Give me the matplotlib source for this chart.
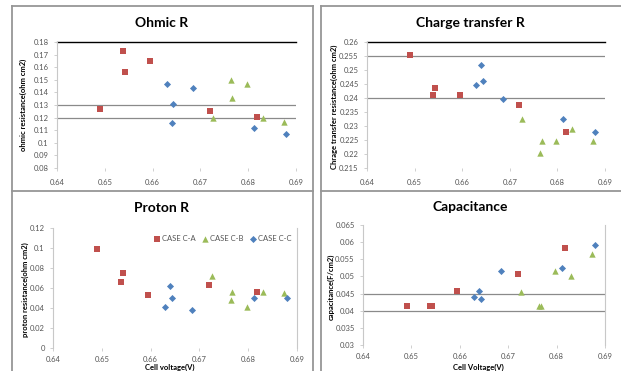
import numpy as np
import matplotlib.pyplot as plt
from matplotlib.lines import Line2D
from matplotlib.ticker import FuncFormatter

# cell voltage (V) for each case
volt_a = [0.6490, 0.6539, 0.6543, 0.6595, 0.6720, 0.6818]
volt_b = [0.6726, 0.6764, 0.6767, 0.6797, 0.6830, 0.6874]
volt_c = [0.6630, 0.6640, 0.6643, 0.6685, 0.6812, 0.6880]

# ohmic resistance (ohm cm2)
ohmic_a = [0.1268, 0.1726, 0.1562, 0.1647, 0.1252, 0.1207]
ohmic_b = [0.1200, 0.1501, 0.1356, 0.1467, 0.1200, 0.1162]
ohmic_c = [0.1464, 0.1160, 0.1311, 0.1432, 0.1115, 0.1073]

# charge transfer resistance (ohm cm2)
ct_a = [0.2555, 0.2412, 0.2436, 0.2412, 0.2375, 0.2279]
ct_b = [0.2326, 0.2205, 0.2245, 0.2245, 0.2290, 0.2245]
ct_c = [0.2445, 0.2519, 0.2460, 0.2398, 0.2326, 0.2279]

# proton resistance (ohm cm2)
proton_a = [0.0990, 0.0657, 0.0753, 0.0530, 0.0633, 0.0557]
proton_b = [0.0717, 0.0477, 0.0563, 0.0413, 0.0560, 0.0547]
proton_c = [0.0413, 0.0617, 0.0497, 0.0377, 0.0497, 0.0497]

# capacitance (F/cm2)
cap_a = [0.0415, 0.0415, 0.0415, 0.0458, 0.0508, 0.0583]
cap_b = [0.0456, 0.0415, 0.0415, 0.0515, 0.0500, 0.0566]
cap_c = [0.0441, 0.0458, 0.0433, 0.0516, 0.0524, 0.0592]

case_names = ['CASE C-A', 'CASE C-B', 'CASE C-C']
colors = ['#C0504D', '#9BBB59', '#4F81BD']
markers = ['s', '^', 'D']
sizes = [17, 21, 13]

plt.rcParams['font.family'] = ['Lato', 'DejaVu Sans']

W, H = 621, 371
fig = plt.figure(figsize=(W / 100, H / 100), dpi=100)
fig.patch.set_facecolor('white')


def px_axes(x0, y0, x1, y1):
    return fig.add_axes([x0 / W, 1 - y1 / H, (x1 - x0) / W, (y1 - y0) / H])


def fig_line(x0, y0, x1, y1, color='#969696', lw=1.3):
    fig.add_artist(Line2D([x0 / W, x1 / W], [1 - y0 / H, 1 - y1 / H],
                          transform=fig.transFigure, color=color, lw=lw))


# panel frames
fig_line(12, 6, 12, 371)
fig_line(313, 6, 313, 371)
fig_line(321, 6, 321, 371)
fig_line(12, 6, 313, 6)
fig_line(321, 6, 621, 6)
fig_line(12, 191, 313, 191)
fig_line(321, 191, 621, 191)

fmt = FuncFormatter(lambda v, p: '%g' % round(v, 4))


def style(ax, ylim, ystep, hlines, top_black, right_line, xpad):
    ax.set_xlim(0.64, 0.69)
    ax.set_ylim(*ylim)
    ax.set_xticks(np.round(np.arange(0.64, 0.6901, 0.01), 3))
    ax.set_yticks(np.round(np.arange(ylim[0], ylim[1] + ystep / 2, ystep), 4))
    ax.xaxis.set_major_formatter(fmt)
    ax.yaxis.set_major_formatter(fmt)
    for s in ['top', 'right', 'bottom']:
        ax.spines[s].set_visible(False)
    ax.spines['left'].set_color('#c8c8c8')
    ax.spines['left'].set_linewidth(0.8)
    ax.tick_params(axis='both', labelsize=5.5, labelcolor='#555555',
                   color='#c8c8c8', length=2, width=0.6)
    ax.tick_params(axis='x', pad=xpad)
    ax.tick_params(axis='y', pad=4)
    for h in hlines:
        ax.axhline(h, color='#8a8a8a', lw=0.9, zorder=1)
    if top_black:
        ax.axhline(ylim[1], color='black', lw=1.0, zorder=1, clip_on=False)
    if right_line:
        ax.axvline(0.69, color='#c8c8c8', lw=0.8, zorder=1, clip_on=False)


def draw(ax, ya, yb, yc):
    for xs, ys, c, m, s, name in zip([volt_a, volt_b, volt_c], [ya, yb, yc],
                                     colors, markers, sizes, case_names):
        ax.scatter(xs, ys, marker=m, s=s, color=c, linewidths=0, zorder=3,
                   label=name)


# --- Ohmic R ---
ax1 = px_axes(57, 42, 296, 168)
style(ax1, (0.08, 0.18), 0.01, [0.12, 0.13], True, False, 6)
draw(ax1, ohmic_a, ohmic_b, ohmic_c)
fig.text(162 / W, 1 - 23 / H, 'Ohmic R', ha='center', va='center',
         fontsize=10, fontweight='bold')
fig.text(23 / W, 1 - 105 / H, 'ohmic resistance(ohm cm2)', rotation=90,
         ha='center', va='center', fontsize=5.5, fontweight='bold')

# --- Charge transfer R ---
ax2 = px_axes(367, 42, 605, 168)
style(ax2, (0.215, 0.26), 0.005, [0.24, 0.255], True, False, 6)
draw(ax2, ct_a, ct_b, ct_c)
fig.text(470 / W, 1 - 23 / H, 'Charge transfer R', ha='center', va='center',
         fontsize=10, fontweight='bold')
fig.text(334 / W, 1 - 107 / H, 'Chrage transfer resistance(ohm cm2)',
         rotation=90, ha='center', va='center', fontsize=5.5, fontweight='bold')

# --- Proton R ---
ax3 = px_axes(53, 228, 297, 348)
style(ax3, (0.0, 0.12), 0.02, [], False, True, 3.5)
draw(ax3, proton_a, proton_b, proton_c)
fig.text(162 / W, 1 - 208 / H, 'Proton R', ha='center', va='center',
         fontsize=10, fontweight='bold')
fig.text(25 / W, 1 - 290 / H, 'proton resistance(ohm cm2)', rotation=90,
         ha='center', va='center', fontsize=5.5, fontweight='bold')
fig.text(170 / W, 1 - 367.5 / H, 'Cell voltage(V)', ha='center', va='center',
         fontsize=5.5, fontweight='bold')
ax3.legend(loc='upper right', bbox_to_anchor=(0.99, 0.97), ncol=3,
           frameon=False, fontsize=5.5, labelcolor='#555555',
           handletextpad=0.1, columnspacing=0.8, handlelength=1.0,
           borderaxespad=0)

# --- Capacitance ---
ax4 = px_axes(363, 225, 605, 345)
style(ax4, (0.03, 0.065), 0.005, [0.04, 0.045], False, True, 4)
draw(ax4, cap_a, cap_b, cap_c)
fig.text(470 / W, 1 - 207 / H, 'Capacitance', ha='center', va='center',
         fontsize=10, fontweight='bold')
fig.text(331 / W, 1 - 287 / H, 'capacitance(F/cm2)', rotation=90,
         ha='center', va='center', fontsize=5.5, fontweight='bold')
fig.text(478 / W, 1 - 367 / H, 'Cell Voltage(V)', ha='center', va='center',
         fontsize=5.5, fontweight='bold')

fig.savefig('out.png', dpi=100, facecolor='white')
